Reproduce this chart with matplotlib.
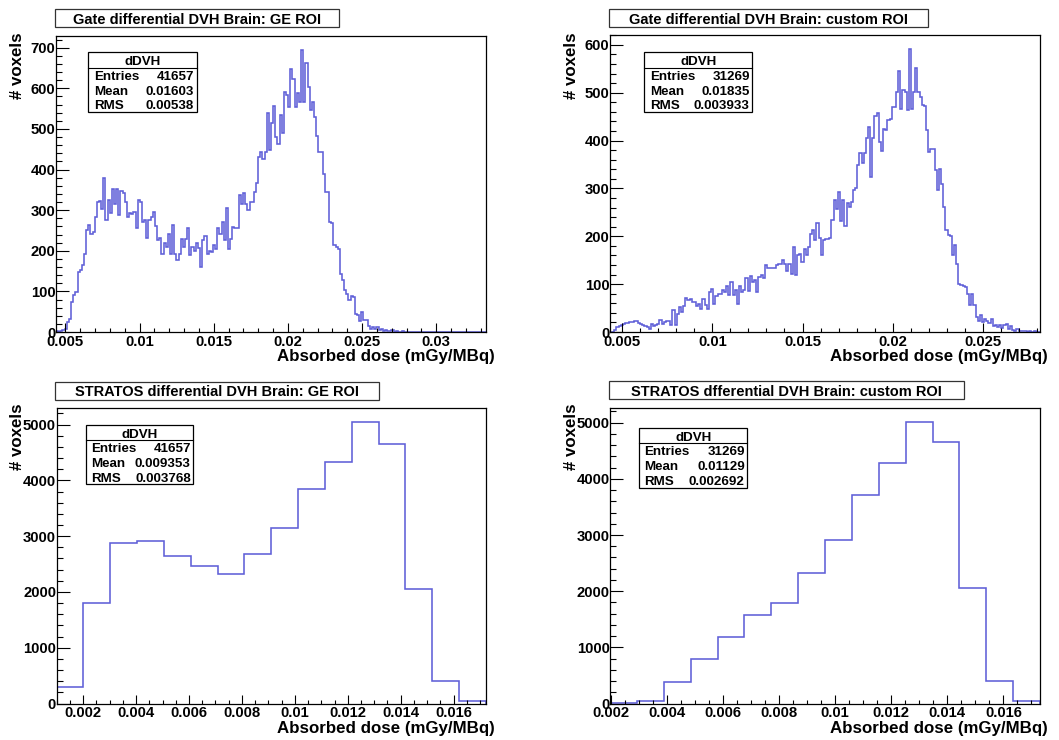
import numpy as np
import matplotlib
matplotlib.use("Agg")
import matplotlib.pyplot as plt
from matplotlib.ticker import MultipleLocator, FuncFormatter
from matplotlib.patches import Rectangle
from matplotlib.lines import Line2D

plt.rcParams['font.family'] = ['Liberation Sans', 'DejaVu Sans']
plt.rcParams['font.weight'] = 'bold'

# ---------------------------------------------------------------- data
# Gate dDVH, GE ROI: 200 bins
gate_ge_range = (0.00437, 0.03335)
gate_ge_counts = [
    2, 1, 3, 4, 8, 25, 33, 74, 90, 99,
    148, 152, 164, 193, 252, 263, 242, 246, 282, 320,
    322, 304, 380, 275, 325, 292, 351, 316, 351, 288,
    347, 341, 320, 283, 292, 290, 296, 255, 325, 320,
    271, 275, 232, 275, 283, 296, 262, 226, 232, 193,
    218, 210, 242, 193, 263, 193, 177, 191, 230, 210,
    230, 255, 189, 210, 200, 218, 208, 160, 226, 236,
    191, 200, 197, 214, 205, 255, 242, 271, 226, 306,
    205, 228, 259, 255, 255, 337, 316, 341, 316, 300,
    320, 320, 345, 367, 431, 444, 427, 444, 538, 448,
    515, 556, 480, 464, 534, 489, 592, 584, 553, 647,
    622, 555, 589, 567, 694, 567, 661, 602, 546, 567,
    530, 482, 444, 444, 389, 345, 345, 271, 269, 214,
    210, 205, 142, 127, 104, 94, 78, 88, 86, 45,
    41, 27, 49, 29, 30, 14, 8, 12, 8, 12,
    6, 8, 2, 4, 3, 2, 4, 1, 2, 0,
    1, 2, 0, 1, 0, 1, 0, 0, 0, 0,
    0, 0, 0, 0, 0, 0, 0, 0, 0, 0,
    0, 0, 0, 0, 0, 0, 0, 0, 0, 0,
    0, 0, 0, 0, 0, 0, 0, 0, 0, 0,
]

# Gate dDVH, custom ROI: 200 bins
gate_custom_range = (0.004315, 0.028182)
gate_custom_counts = [
    1, 1, 5, 10, 12, 15, 17, 19, 19, 20,
    21, 22, 23, 19, 16, 14, 12, 10, 7, 16,
    12, 14, 16, 26, 17, 21, 23, 24, 14, 45,
    14, 38, 52, 42, 54, 70, 66, 68, 63, 63,
    54, 58, 49, 68, 56, 49, 84, 89, 59, 75,
    80, 80, 87, 84, 96, 77, 105, 77, 87, 59,
    96, 84, 87, 112, 86, 117, 105, 108, 84, 115,
    119, 112, 140, 133, 133, 133, 133, 140, 143, 143,
    150, 143, 128, 142, 122, 178, 119, 160, 164, 147,
    174, 160, 177, 204, 214, 193, 227, 197, 160, 193,
    195, 195, 197, 234, 276, 256, 293, 232, 276, 221,
    270, 262, 272, 297, 300, 349, 374, 353, 374, 405,
    429, 324, 406, 451, 458, 398, 379, 424, 422, 442,
    446, 470, 470, 502, 546, 465, 505, 502, 464, 591,
    465, 501, 551, 501, 490, 474, 472, 422, 377, 382,
    382, 338, 297, 340, 310, 262, 213, 203, 201, 160,
    181, 143, 101, 98, 96, 93, 80, 56, 80, 56,
    31, 23, 35, 21, 28, 24, 19, 28, 12, 14,
    10, 14, 9, 14, 17, 7, 12, 5, 3, 7,
    3, 2, 3, 2, 1, 2, 1, 2, 1, 1,
]

# STRATOS dDVH, GE ROI: 16 bins
stratos_ge_range = (0.00099, 0.017225)
stratos_ge_counts = [300, 1800, 2880, 2920, 2650, 2460, 2320, 2680,
                     3150, 3850, 4330, 5040, 4650, 2060, 410, 40]

# STRATOS dDVH, custom ROI: 16 bins
stratos_custom_range = (0.001964, 0.017308)
stratos_custom_counts = [5, 42, 380, 790, 1188, 1574, 1793, 2316,
                         2916, 3711, 4276, 5006, 4656, 2061, 404, 42]

titles = [
    "Gate differential DVH Brain: GE ROI",
    "Gate differential DVH Brain: custom ROI",
    "STRATOS differential DVH Brain: GE ROI",
    "STRATOS dfferential DVH Brain: custom ROI",
]
stat_entries = ["41657", "31269", "41657", "31269"]
stat_means = ["0.01603", "0.01835", "0.009353", "0.01129"]
stat_rms = ["0.00538", "0.003933", "0.003768", "0.002692"]

x_label = "Absorbed dose (mGy/MBq)"
y_label = "# voxels"
stats_name = "dDVH"

# ---------------------------------------------------------------- layout
W, H = 1059, 740
LINE_COLOR = '#5f5fd8'


def fx(x):
    return x / W


def fy(y):
    return 1 - y / H


panels = [
    dict(counts=gate_ge_counts, rng=gate_ge_range,
         axes=(56, 486, 36, 332), tbox=(55, 339, 9.3, 27.3), tbase=24.0,
         sbox=(88.3, 196.7, 52.3, 112.3), ylab=(17.5, 32), xlab=(495, 361.5),
         xmaj=0.005, xmin=0.001, ymaj=100, ymin=20),
    dict(counts=gate_custom_counts, rng=gate_custom_range,
         axes=(610, 1040, 35, 332), tbox=(608.5, 928.3, 9.0, 27.3), tbase=24.0,
         sbox=(644.3, 752.3, 52.3, 112.3), ylab=(571, 32), xlab=(1048, 361.5),
         xmaj=0.005, xmin=0.001, ymaj=100, ymin=20),
    dict(counts=stratos_ge_counts, rng=stratos_ge_range,
         axes=(56.5, 486, 408.3, 703.5), tbox=(55, 379.3, 381.7, 400), tbase=396.5,
         sbox=(85.7, 193.3, 425, 484.3), ylab=(17.5, 403), xlab=(495, 732.5),
         xmaj=0.002, xmin=0.0005, ymaj=1000, ymin=200),
    dict(counts=stratos_custom_counts, rng=stratos_custom_range,
         axes=(610, 1040, 408.3, 703.5), tbox=(608.5, 964, 381, 399.3), tbase=396.0,
         sbox=(639, 747.3, 427.7, 487.7), ylab=(571, 403), xlab=(1048, 732.5),
         xmaj=0.002, xmin=0.0005, ymaj=1000, ymin=200),
]

fig = plt.figure(figsize=(W / 100, H / 100), dpi=100)
fig.patch.set_facecolor('white')

fmt = FuncFormatter(lambda v, pos: f"{round(v, 6):g}")
STAT_FS = 9.6

for i, p in enumerate(panels):
    l, r, t, b = p['axes']
    ax = fig.add_axes([fx(l), fy(b), (r - l) / W, (b - t) / H])
    counts = np.asarray(p['counts'], dtype=float)
    edges = np.linspace(p['rng'][0], p['rng'][1], len(counts) + 1)
    ax.stairs(counts, edges, color=LINE_COLOR, lw=1.15)
    ax.set_xlim(edges[0], edges[-1])
    ax.set_ylim(0, 1.05 * counts.max())

    for s in ax.spines.values():
        s.set_linewidth(0.9)
        s.set_color('black')

    ax.xaxis.set_major_locator(MultipleLocator(p['xmaj']))
    ax.xaxis.set_minor_locator(MultipleLocator(p['xmin']))
    ax.yaxis.set_major_locator(MultipleLocator(p['ymaj']))
    ax.yaxis.set_minor_locator(MultipleLocator(p['ymin']))
    ax.xaxis.set_major_formatter(fmt)
    ax.yaxis.set_major_formatter(fmt)

    ax.tick_params(axis='both', which='both', direction='in', top=False, right=False,
                   width=0.8, color='black', labelsize=10.7)
    ax.tick_params(axis='y', which='major', length=9.3, pad=0.3)
    ax.tick_params(axis='y', which='minor', length=4.6)
    ax.tick_params(axis='x', which='major', length=6.4, pad=2)
    ax.tick_params(axis='x', which='minor', length=3.2)
    for lab in ax.get_xticklabels() + ax.get_yticklabels():
        lab.set_fontweight('bold')

    # title box
    tl, tr, tt, tb = p['tbox']
    fig.add_artist(Rectangle((fx(tl), fy(tb)), (tr - tl) / W, (tb - tt) / H,
                             transform=fig.transFigure, facecolor='white',
                             edgecolor='#333333', lw=0.9, zorder=5))
    fig.text(fx((tl + tr) / 2), fy(p['tbase']), titles[i], ha='center', va='baseline',
             fontsize=10.5, fontweight='bold', zorder=6)

    # statistics box
    sl, sr, st, sb = p['sbox']
    fig.add_artist(Rectangle((fx(sl), fy(sb)), (sr - sl) / W, (sb - st) / H,
                             transform=fig.transFigure, facecolor='white',
                             edgecolor='black', lw=0.9, zorder=5))
    fig.add_artist(Line2D([fx(sl), fx(sr)], [fy(st + 15.4), fy(st + 15.4)],
                          transform=fig.transFigure, color='black', lw=0.8, zorder=6))
    fig.text(fx((sl + sr) / 2), fy(st + 12.9), stats_name, ha='center', va='baseline',
             fontsize=STAT_FS, fontweight='bold', zorder=6)
    rows = [("Entries", stat_entries[i]), ("Mean", stat_means[i]), ("RMS", stat_rms[i])]
    for k, (name, val) in enumerate(rows):
        yb = st + 27.5 + 14.8 * k
        fig.text(fx(sl + 5.5), fy(yb), name, ha='left', va='baseline',
                 fontsize=STAT_FS, fontweight='bold', zorder=6)
        fig.text(fx(sr - 2.5), fy(yb), val, ha='right', va='baseline',
                 fontsize=STAT_FS, fontweight='bold', zorder=6)

    # axis titles
    fig.text(fx(p['ylab'][0]), fy(p['ylab'][1]), y_label, rotation=90,
             ha='center', va='top', fontsize=12.2, fontweight='bold')
    fig.text(fx(p['xlab'][0]), fy(p['xlab'][1]), x_label, ha='right', va='baseline',
             fontsize=12.2, fontweight='bold')

fig.savefig('out.png', dpi=100, facecolor='white')
